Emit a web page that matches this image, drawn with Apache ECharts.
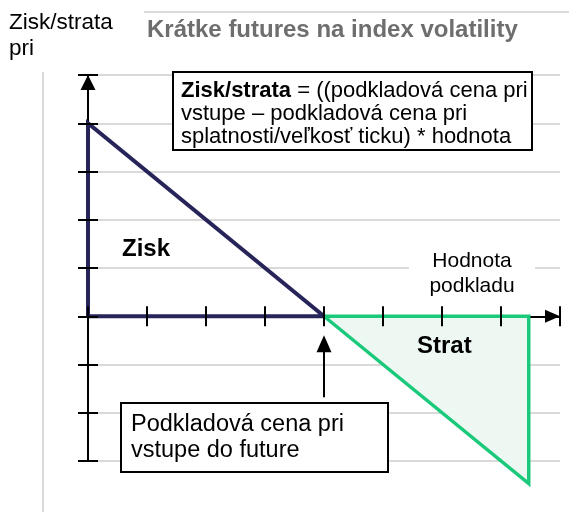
<!DOCTYPE html>
<html>
<head>
<meta charset="utf-8">
<script src="https://cdn.jsdelivr.net/npm/echarts@6/dist/echarts.min.js"></script>
<style>
html,body{margin:0;padding:0;background:#fff;}
#chart{width:569px;height:512px;}
</style>
</head>
<body>
<div id="chart"></div>
<script>
// ---- data ----
const xMin = 0, xMax = 8, xStep = 1;           // underlying value axis
const yMin = -3, yMax = 5, yStep = 1;          // profit / loss axis
const entryPrice = 4;                          // entry price of the future
const profitOutline = [[0, 0], [0, 4], [4, 0], [0, 0]];
const lossOutline = [[4, 0], [7.47, -3.47], [7.47, 0], [4, 0]];
const lossArea = [[4, 0], [7.47, -3.47]];
const entryArrow = [-1.68, -0.57];             // y-range of pointer arrow at entry price

const titleText = 'Krátke futures na index volatility';
const yTitleLines = ['Zisk/strata', 'pri'];
const formulaLines = ['{b|Zisk/strata} = ((podkladová cena pri', 'vstupe – podkladová cena pri', 'splatnosti/veľkosť ticku) * hodnota'];
const entryLabelLines = ['Podkladová cena pri', 'vstupe do future'];
const profitLabel = 'Zisk';
const lossLabel = 'Strat';
const xTitleLines = ['Hodnota', 'podkladu'];

const FONT = '"Liberation Sans", Arial, Helvetica, sans-serif';
const chart = echarts.init(document.getElementById('chart'), null, {renderer: 'canvas'});

function valAxis(min, max, step, extra) {
  return Object.assign({
    type: 'value', min: min, max: max, interval: step,
    axisLabel: {show: false}, splitLine: {show: false},
    axisTick: {show: false}, axisLine: {show: false}
  }, extra);
}
const tickStyle = {color: '#000', width: 2};

const option = {
  animation: false,
  backgroundColor: '#fff',
  grid: [
    {left: 88, right: 9, top: 75, bottom: 51, containLabel: false, outerBoundsMode: 'none'},
    {left: 98, right: 9, top: 75, bottom: 51, containLabel: false, outerBoundsMode: 'none'}
  ],
  xAxis: [
    valAxis(xMin, xMax, xStep, {gridIndex: 0, position: 'bottom', z: 1,
      axisLine: {show: true, onZero: true, onZeroAxisIndex: 0, lineStyle: {color: '#000', width: 2},
        symbol: ['none', 'triangle'], symbolSize: [13, 15], symbolOffset: [0, -7.5]}}),
    valAxis(xMin, xMax, xStep, {gridIndex: 0, position: 'bottom', z: 5,
      axisLine: {show: false, onZero: true, onZeroAxisIndex: 1},
      axisTick: {show: true, inside: false, length: 10, lineStyle: tickStyle}}),
    valAxis(xMin, xMax, xStep, {gridIndex: 0, position: 'bottom', z: 5,
      axisLine: {show: false, onZero: true, onZeroAxisIndex: 2},
      axisTick: {show: true, inside: true, length: 10, lineStyle: tickStyle}}),
    valAxis(xMin, xMax, xStep, {gridIndex: 1})
  ],
  yAxis: [
    valAxis(yMin, yMax, yStep, {gridIndex: 0, position: 'left', z: 1,
      axisLine: {show: true, onZero: false, lineStyle: {color: '#000', width: 2},
        symbol: ['none', 'triangle'], symbolSize: [15, 15], symbolOffset: [0, -7.5]}}),
    valAxis(yMin, yMax, yStep, {gridIndex: 0, position: 'left', z: 5,
      axisLine: {show: false, onZero: false},
      axisTick: {show: true, inside: false, length: 10, lineStyle: tickStyle}}),
    valAxis(yMin, yMax, yStep, {gridIndex: 0, position: 'left', z: 5,
      axisLine: {show: false, onZero: false},
      axisTick: {show: true, inside: true, length: 10, lineStyle: tickStyle}}),
    valAxis(yMin, yMax, yStep, {gridIndex: 1, z: 0,
      splitLine: {show: true, lineStyle: {color: '#d9d9d9', width: 2}}})
  ],
  series: [
    {type: 'line', xAxisIndex: 0, yAxisIndex: 0, data: lossArea, symbol: 'none', z: 1, clip: false,
      lineStyle: {width: 0, opacity: 0}, areaStyle: {color: '#eef8f3', opacity: 1}, silent: true},
    {type: 'line', xAxisIndex: 0, yAxisIndex: 0, data: profitOutline, symbol: 'none', z: 3, clip: false,
      lineStyle: {color: '#27245a', width: 4, join: 'miter'}, silent: true},
    {type: 'line', xAxisIndex: 0, yAxisIndex: 0, data: lossOutline, symbol: 'none', z: 3, clip: false,
      lineStyle: {color: '#1bc97b', width: 3.5, join: 'miter'}, silent: true,
      markLine: {silent: true, symbol: ['none', 'triangle'], symbolSize: [15, 17],
        label: {show: false}, lineStyle: {color: '#000', width: 2, type: 'solid'},
        data: [[{coord: [entryPrice, entryArrow[0]]}, {coord: [entryPrice, entryArrow[1]]}]]}}
  ],
  graphic: {elements: [
    {type: 'line', z: 0, shape: {x1: 144, y1: 12, x2: 569, y2: 12}, style: {stroke: '#d9d9d9', lineWidth: 2}},
    {type: 'line', z: 0, shape: {x1: 43, y1: 72, x2: 43, y2: 512}, style: {stroke: '#d9d9d9', lineWidth: 2}},
    {type: 'text', x: 147, y: 30, z: 100, style: {text: titleText, fill: '#6e6e6e', fontFamily: FONT, fontSize: 24, fontWeight: 'bold', align: 'left', verticalAlign: 'middle'}},
    {type: 'text', x: 9, y: 23, z: 100, style: {text: yTitleLines[0], fill: '#000', fontFamily: FONT, fontSize: 22.5, align: 'left', verticalAlign: 'middle'}},
    {type: 'text', x: 9, y: 49, z: 100, style: {text: yTitleLines[1], fill: '#000', fontFamily: FONT, fontSize: 22.5, align: 'left', verticalAlign: 'middle'}},
    {type: 'rect', z: 90, shape: {x: 173, y: 72, width: 359, height: 78}, style: {fill: '#fff', stroke: '#000', lineWidth: 2}},
    {type: 'text', x: 181, y: 79.5, z: 100, style: {text: formulaLines.join('\n'), fill: '#000', fontFamily: FONT, fontSize: 22, lineHeight: 23, align: 'left', verticalAlign: 'top',
      rich: {b: {fontWeight: 'bold', fontFamily: FONT, fontSize: 22, fill: '#000', lineHeight: 23}}}},
    {type: 'rect', z: 90, shape: {x: 121, y: 403, width: 267, height: 69}, style: {fill: '#fff', stroke: '#000', lineWidth: 2}},
    {type: 'text', x: 131, y: 412, z: 100, style: {text: entryLabelLines.join('\n'), fill: '#000', fontFamily: FONT, fontSize: 23.5, lineHeight: 26, align: 'left', verticalAlign: 'top'}},
    {type: 'text', x: 122, y: 249, z: 100, style: {text: profitLabel, fill: '#000', fontFamily: FONT, fontSize: 24, fontWeight: 'bold', align: 'left', verticalAlign: 'middle'}},
    {type: 'text', x: 417, y: 346, z: 100, style: {text: lossLabel, fill: '#000', fontFamily: FONT, fontSize: 24, fontWeight: 'bold', align: 'left', verticalAlign: 'middle'}},
    {type: 'rect', z: 50, shape: {x: 409, y: 262, width: 126, height: 12}, style: {fill: '#fff'}},
    {type: 'text', x: 472, y: 249, z: 100, style: {text: xTitleLines.join('\n'), fill: '#000', fontFamily: FONT, fontSize: 21, lineHeight: 25, align: 'center', verticalAlign: 'top'}}
  ]}
};
chart.setOption(option);
</script>
</body>
</html>
